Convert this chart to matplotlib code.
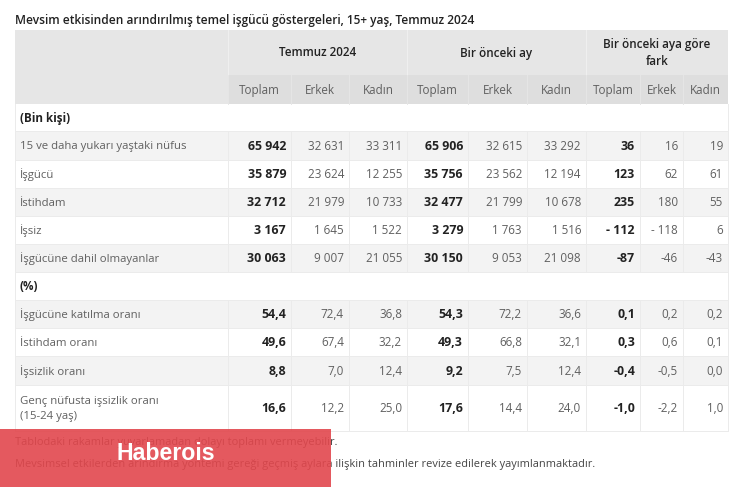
import matplotlib
matplotlib.use('Agg')
import matplotlib.pyplot as plt
from matplotlib.patches import Rectangle

plt.rcParams['font.family'] = ['Open Sans', 'DejaVu Sans']

title = "Mevsim etkisinden arındırılmış temel işgücü göstergeleri, 15+ yaş, Temmuz 2024"
groups = ["Temmuz 2024", "Bir önceki ay", "Bir önceki aya göre\nfark"]
subheads = ["Toplam", "Erkek", "Kadın"] * 3

labels = ["(Bin kişi)",
          "15 ve daha yukarı yaştaki nüfus", "İşgücü", "İstihdam", "İşsiz",
          "İşgücüne dahil olmayanlar",
          "(%)",
          "İşgücüne katılma oranı", "İstihdam oranı", "İşsizlik oranı",
          "Genç nüfusta işsizlik oranı\n(15-24 yaş)"]

current_total = [None, "65 942", "35 879", "32 712", "3 167", "30 063", None, "54,4", "49,6", "8,8", "16,6"]
current_men = [None, "32 631", "23 624", "21 979", "1 645", "9 007", None, "72,4", "67,4", "7,0", "12,2"]
current_women = [None, "33 311", "12 255", "10 733", "1 522", "21 055", None, "36,8", "32,2", "12,4", "25,0"]
prev_total = [None, "65 906", "35 756", "32 477", "3 279", "30 150", None, "54,3", "49,3", "9,2", "17,6"]
prev_men = [None, "32 615", "23 562", "21 799", "1 763", "9 053", None, "72,2", "66,8", "7,5", "14,4"]
prev_women = [None, "33 292", "12 194", "10 678", "1 516", "21 098", None, "36,6", "32,1", "12,4", "24,0"]
diff_total = [None, "36", "123", "235", "- 112", "-87", None, "0,1", "0,3", "-0,4", "-1,0"]
diff_men = [None, "16", "62", "180", "- 118", "-46", None, "0,2", "0,6", "-0,5", "-2,2"]
diff_women = [None, "19", "61", "55", "6", "-43", None, "0,2", "0,1", "0,0", "1,0"]
columns = [current_total, current_men, current_women, prev_total, prev_men, prev_women,
           diff_total, diff_men, diff_women]

notes = ["Tablodaki rakamlar yuvarlamadan dolayı toplamı vermeyebilir.",
         "Mevsimsel etkilerden arındırma yöntemi gereği geçmiş aylara ilişkin tahminler revize edilerek yayımlanmaktadır."]

# layout in pixels
col_x = [15, 228, 291, 349, 407, 468, 527, 586, 640, 683, 728]
row_y = [104, 131, 160, 188, 216, 244, 272, 300, 328, 356, 385, 431]
TXT = '#606060'
DARK = '#222222'
LINE = '#ebebeb'

fig = plt.figure(figsize=(7.5, 4.87), dpi=100)
ax = fig.add_axes([0, 0, 1, 1])
ax.set_xlim(0, 750)
ax.set_ylim(487, 0)
ax.axis('off')

ax.text(15, 20.5, title, fontsize=8.55, fontweight='semibold', color=DARK, va='center')

# header blocks
ax.add_patch(Rectangle((15, 30), 713, 45, fc='#e6e6e6', ec='none'))
ax.add_patch(Rectangle((15, 75), 713, 29, fc='#e6e6e6', ec='none'))
ax.add_patch(Rectangle((228, 75), 500, 29, fc='#dedede', ec='none'))
for i, g in enumerate(groups):
    x0, x1 = col_x[1 + 3 * i], col_x[4 + 3 * i]
    ax.text((x0 + x1) / 2, 53, g, fontsize=8.4, fontweight='semibold', color=DARK,
            ha='center', va='center', linespacing=1.35)
    ax.plot([x0, x0], [30, 75], color='#f0f0f0', lw=0.7)
for i, s in enumerate(subheads):
    ax.text((col_x[i + 1] + col_x[i + 2]) / 2, 90.5, s, fontsize=8.4, color=TXT, ha='center', va='center')
    ax.plot([col_x[i + 1]] * 2, [75, 104], color='#e6e6e6', lw=0.7)

# body
for r, lab in enumerate(labels):
    top, bot = row_y[r], row_y[r + 1]
    mid = (top + bot) / 2 + 1
    section = columns[0][r] is None
    if r in (1, 3, 5, 7, 9):
        ax.add_patch(Rectangle((15, top), 713, bot - top, fc='#f3f3f3', ec='none'))
    ax.plot([15, 728], [bot, bot], color=LINE, lw=0.7)
    if section:
        ax.text(20, mid, lab, fontsize=8.4, fontweight='bold', color=DARK, va='center')
        continue
    ax.text(20, mid, lab, fontsize=8.2, color=TXT, va='center', linespacing=1.5)
    for c, vals in enumerate(columns):
        bold = c % 3 == 0
        ax.text(col_x[c + 2] - 5, mid, vals[r], fontsize=8.9 if bold else 8.4, ha='right', va='center',
                color=DARK if bold else TXT, fontweight='bold' if bold else 'normal')
        ax.plot([col_x[c + 1]] * 2, [top, bot], color=LINE, lw=0.7)
for x in (15, 728):
    ax.plot([x, x], [104, row_y[-1]], color=LINE, lw=0.7)

ax.text(15, 443, notes[0], fontsize=7.9, color='#444444', va='center')
ax.text(15, 465, notes[1], fontsize=7.9, color='#444444', va='center')

# watermark box
ax.add_patch(Rectangle((0, 429), 331, 58, fc='#e2474d', ec='none', alpha=0.9, zorder=5))
ax.text(117, 453, "Haberois", fontsize=16.7, fontweight='bold', color='white',
        family='Liberation Sans', va='center', zorder=6)

fig.savefig('out.png', dpi=100)
